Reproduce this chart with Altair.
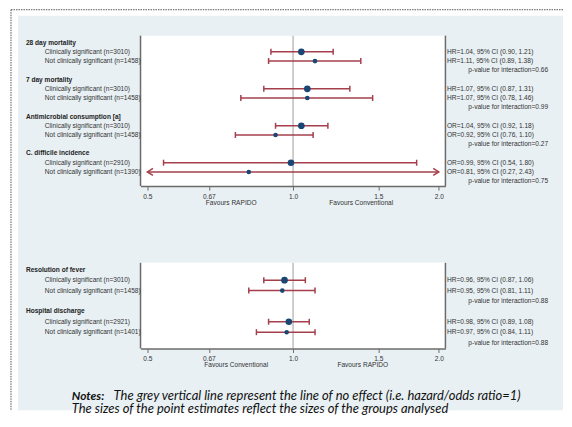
import altair as alt
import pandas as pd

# ---------------- data ----------------
top_outcomes = ["28 day mortality", "7 day mortality", "Antimicrobial consumption [a]", "C. difficile incidence"]
top_measure = ["HR", "HR", "OR", "OR"]
top_n_clin = [3010, 3010, 3010, 2910]
top_n_not = [1458, 1458, 1458, 1390]
top_est_clin = [1.04, 1.07, 1.04, 0.99]
top_lo_clin = [0.90, 0.87, 0.92, 0.54]
top_hi_clin = [1.21, 1.31, 1.18, 1.80]
top_est_not = [1.11, 1.07, 0.92, 0.81]
top_lo_not = [0.89, 0.78, 0.76, 0.27]
top_hi_not = [1.38, 1.46, 1.10, 2.43]
top_p = ["0.66", "0.99", "0.27", "0.75"]

bot_outcomes = ["Resolution of fever", "Hospital discharge"]
bot_measure = ["HR", "HR"]
bot_n_clin = [3010, 2921]
bot_n_not = [1458, 1401]
bot_est_clin = [0.96, 0.98]
bot_lo_clin = [0.87, 0.89]
bot_hi_clin = [1.06, 1.08]
bot_est_not = [0.95, 0.97]
bot_lo_not = [0.81, 0.84]
bot_hi_not = [1.11, 1.11]
bot_p = ["0.88", "0.88"]

sub_labels = ["Clinically significant", "Not clinically significant"]
tick_values = [0.5, 0.67, 1.0, 1.5, 2.0]
tick_labels = ["0.5", "0.67", "1.0", "1.5", "2.0"]
x_domain = [0.484, 2.064]
no_effect = 1.0

notes_bold = "Notes:"
notes_line1 = "The grey vertical line represent the line of no effect (i.e. hazard/odds ratio=1)"
notes_line2 = "The sizes of the point estimates reflect the sizes of the groups analysed"

# ---------------- styling ----------------
BG = "#e8f0f3"
RED = "#a43f4b"
BLUE = "#1a4674"
TXT = "#333333"
AXC = "#6b6b6b"
FONT = "Liberation Sans"
FS = 6.6
W = 306

x_min, x_max = tick_values[0], tick_values[-1]


def build(outcomes, measure, n_c, n_n, e_c, l_c, h_c, e_n, l_n, h_n, p):
    est, head, sub, ci, pv = [], [], [], [], []
    for i, name in enumerate(outcomes):
        base = 4 * i
        head.append(dict(row=base, label=name))
        vals = [(n_c[i], e_c[i], l_c[i], h_c[i]), (n_n[i], e_n[i], l_n[i], h_n[i])]
        for j, (n, e, lo, hi) in enumerate(vals):
            r = base + 1 + j
            est.append(dict(row=r, est=e, lo=lo, hi=hi, n=n,
                            lo_d=max(lo, x_min), hi_d=min(hi, x_max)))
            sub.append(dict(row=r, label=f"{sub_labels[j]} (n={n})"))
            ci.append(dict(row=r, label=f"{measure[i]}={e:.2f}, 95% CI ({lo:.2f}, {hi:.2f})"))
        pv.append(dict(row=base + 3, label=f"p-value for interaction={p[i]}"))
    return (pd.DataFrame(est), pd.DataFrame(head), pd.DataFrame(sub),
            pd.DataFrame(ci), pd.DataFrame(pv))


label_expr = " : ".join(
    f"datum.value == {v} ? '{t}'" for v, t in zip(tick_values, tick_labels)
) + " : ''"

xscale = alt.Scale(type="log", domain=x_domain, nice=False, zero=False)
xaxis = alt.Axis(values=tick_values, labelExpr=label_expr, title=None, grid=False,
                 domainColor=AXC, domainWidth=1.5, tickColor=AXC, tickWidth=1,
                 tickSize=4, labelFont=FONT, labelFontSize=FS, labelColor=TXT,
                 labelPadding=3, labelFlush=False, zindex=1)


def X(field):
    return alt.X(field, type="quantitative", scale=xscale, axis=xaxis)


def panel(data, H, ydom, fav, back=None):
    est, head, sub, ci, pv = data
    yscale = alt.Scale(domain=ydom, reverse=True, nice=False, zero=False)

    def Y():
        return alt.Y("row:Q", scale=yscale, axis=None)

    one = pd.DataFrame({"a": [0]})
    layers = []
    if back is not None:
        layers += back
    layers.append(alt.Chart(one).mark_rect(color="white").encode(
        x=alt.value(0), x2=alt.value(W), y=alt.value(0), y2=alt.value(H)))
    # line of no effect
    layers.append(alt.Chart(one).mark_rule(color="#c2c2c2", strokeWidth=1.6).encode(
        x=alt.datum(no_effect, type="quantitative", scale=xscale, axis=xaxis),
        y=alt.value(0), y2=alt.value(H)))
    # plot frame left/right
    for xv in (0, W):
        layers.append(alt.Chart(one).mark_rule(color=AXC, strokeWidth=1.5).encode(
            x=alt.value(xv), y=alt.value(0), y2=alt.value(H)))
    base = alt.Chart(est)
    layers.append(base.mark_rule(color=RED, strokeWidth=1.5).encode(
        x=X("lo_d"), x2="hi_d:Q", y=Y()))
    layers.append(base.transform_filter(f"datum.lo >= {x_min}").mark_tick(
        orient="vertical", color=RED, thickness=1.5, size=6, opacity=1).encode(x=X("lo"), y=Y()))
    layers.append(base.transform_filter(f"datum.hi <= {x_max}").mark_tick(
        orient="vertical", color=RED, thickness=1.5, size=6, opacity=1).encode(x=X("hi"), y=Y()))
    layers.append(base.transform_filter(f"datum.lo < {x_min}").mark_point(
        shape="M1.6,-1L0,0L1.6,1", filled=False, color=RED, strokeWidth=1.5,
        size=49, opacity=1).encode(x=X("lo_d"), y=Y()))
    layers.append(base.transform_filter(f"datum.hi > {x_max}").mark_point(
        shape="M-1.6,-1L0,0L-1.6,1", filled=False, color=RED, strokeWidth=1.5,
        size=49, opacity=1).encode(x=X("hi_d"), y=Y()))
    layers.append(base.mark_circle(color=BLUE, opacity=1).encode(
        x=X("est"), y=Y(),
        size=alt.Size("n:Q", scale=alt.Scale(domain=[0, 3010], range=[0, 45]), legend=None)))
    # texts
    layers.append(alt.Chart(head).mark_text(align="left", baseline="middle", font=FONT,
                                            fontSize=FS, fontWeight="bold", color="#222222").encode(
        x=alt.value(-115), y=Y(), text="label:N"))
    layers.append(alt.Chart(sub).mark_text(align="left", baseline="middle", font=FONT,
                                           fontSize=FS, color=TXT).encode(
        x=alt.value(-96), y=Y(), text="label:N"))
    layers.append(alt.Chart(ci).mark_text(align="left", baseline="middle", font=FONT,
                                          fontSize=FS, color=TXT).encode(
        x=alt.value(307.5), y=Y(), text="label:N"))
    layers.append(alt.Chart(pv).mark_text(align="left", baseline="middle", font=FONT,
                                          fontSize=FS, color=TXT).encode(
        x=alt.value(329), y=Y(), text="label:N"))
    for txt, xv in fav:
        layers.append(alt.Chart(one).mark_text(align="center", baseline="middle", font=FONT,
                                               fontSize=FS, color=TXT, text=txt).encode(
            x=alt.value(xv), y=alt.value(H + 17)))
    return layers


one = pd.DataFrame({"a": [0]})
H1, H2 = 151, 86
BOTTOM = 376
RIGHT = 424
background = [
    alt.Chart(one).mark_rect(color=BG).encode(
        x=alt.value(-123), x2=alt.value(RIGHT), y=alt.value(-20), y2=alt.value(BOTTOM)),
    alt.Chart(one).mark_rule(color="#555555", strokeWidth=1, strokeDash=[1.5, 1]).encode(
        x=alt.value(-130), x2=alt.value(RIGHT), y=alt.value(-26)),
    alt.Chart(one).mark_rule(color="#555555", strokeWidth=1, strokeDash=[1.5, 1]).encode(
        x=alt.value(-130), y=alt.value(-26), y2=alt.value(BOTTOM)),
]

top_data = build(top_outcomes, top_measure, top_n_clin, top_n_not, top_est_clin, top_lo_clin,
                 top_hi_clin, top_est_not, top_lo_not, top_hi_not, top_p)
bot_data = build(bot_outcomes, bot_measure, bot_n_clin, bot_n_not, bot_est_clin, bot_lo_clin,
                 bot_hi_clin, bot_est_not, bot_lo_not, bot_hi_not, bot_p)

top_layers = panel(top_data, H1, [-0.755, 15.53],
                   [("Favours RAPIDO", 91), ("Favours Conventional", 221.5)], back=background)
bot_layers = panel(bot_data, H2, [-0.671, 7.57],
                   [("Favours Conventional", 96), ("Favours RAPIDO", 223)])

NF = "Lato"
NFS = 13
bot_layers += [
    alt.Chart(one).mark_text(align="left", baseline="middle", font=NF, fontSize=12,
                             fontWeight="bold", fontStyle="italic", color="#111111",
                             text=notes_bold).encode(x=alt.value(-69), y=alt.value(134)),
    alt.Chart(one).mark_text(align="left", baseline="middle", font=NF, fontSize=NFS,
                             fontStyle="italic", color="#111111",
                             text=notes_line1).encode(x=alt.value(-27), y=alt.value(134)),
    alt.Chart(one).mark_text(align="left", baseline="middle", font=NF, fontSize=NFS,
                             fontStyle="italic", color="#111111",
                             text=notes_line2).encode(x=alt.value(-69), y=alt.value(146.5)),
]

top = alt.layer(*top_layers).properties(width=W, height=H1)
bot = alt.layer(*bot_layers).properties(width=W, height=H2)

chart = alt.VConcatChart(vconcat=[top, bot], spacing=77, bounds="flush").properties(
    padding={"left": 2, "top": 0, "right": 0, "bottom": 0},
    background="white",
).configure_view(stroke=None, fill="white")

chart.save("out.html", embed_options={"renderer": "svg", "actions": False})
